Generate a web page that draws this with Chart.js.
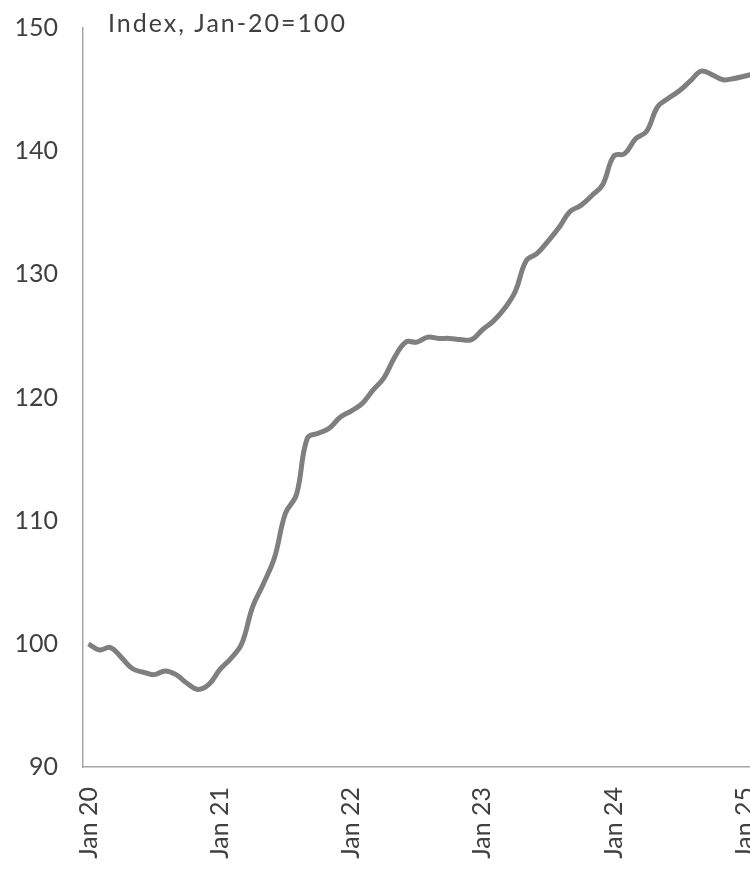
<!DOCTYPE html>
<html>
<head>
<meta charset="utf-8">
<script src="https://cdn.jsdelivr.net/npm/chart.js@4.4.1/dist/chart.umd.min.js"></script>
<style>
  html, body { margin: 0; padding: 0; background: #fff; overflow: hidden; }
  #wrap { width: 750px; height: 870px; overflow: hidden; }
</style>
</head>
<body>
<div id="wrap"><canvas id="chart" width="806" height="870"></canvas></div>
<script>
// Index, Jan-20 = 100 (monthly, Jan 20 .. Feb 25)
const years = ['20', '21', '22', '23', '24', '25'];
const monthNames = ['Jan', 'Feb', 'Mar', 'Apr', 'May', 'Jun', 'Jul', 'Aug', 'Sep', 'Oct', 'Nov', 'Dec'];

const indexValues = [
    100.0, 99.5, 99.7, 98.9, 98.0, 97.7, 97.5, 97.8, 97.5, 96.8, 96.3, 96.7,
    97.9, 98.8, 100.0, 103.0, 104.9, 107.0, 110.6, 112.1, 116.7, 117.1, 117.5, 118.4,
    118.9, 119.5, 120.6, 121.6, 123.3, 124.5, 124.5, 124.9, 124.8, 124.8, 124.7, 124.7,
    125.5, 126.2, 127.2, 128.6, 131.1, 131.7, 132.7, 133.8, 135.1, 135.6, 136.4, 137.3,
    139.6, 139.8, 141.0, 141.6, 143.6, 144.3, 144.9, 145.7, 146.5, 146.2, 145.8, 145.9,
    146.1, 146.3
];

const yTicks = [90, 100, 110, 120, 130, 140, 150];
const titleText = 'Index, Jan-20=100';

// month labels "Jan 20", "Feb 20", ...
const labels = indexValues.map((v, i) => monthNames[i % 12] + ' ' + years[Math.floor(i / 12)]);

const textColor = '#404040';
const fontFamily = 'Lato, "Noto Sans", sans-serif';

// Titre dessiné dans la zone du graphique
const titlePlugin = {
    id: 'insideTitle',
    afterDraw(chart) {
        const ctx = chart.ctx;
        ctx.save();
        ctx.font = '25px ' + fontFamily;
        ctx.letterSpacing = '2px';
        ctx.fillStyle = textColor;
        ctx.textAlign = 'left';
        ctx.textBaseline = 'alphabetic';
        ctx.fillText(titleText, chart.chartArea.left + 25, 32);
        ctx.restore();
    }
};

new Chart(document.getElementById('chart'), {
    type: 'line',
    data: {
        labels: labels,
        datasets: [{
            data: indexValues,
            borderColor: '#7f7f7f',
            borderWidth: 5,
            pointRadius: 0,
            tension: 0.4,
            fill: false,
        }],
    },
    options: {
        responsive: false,
        animation: false,
        layout: { padding: { top: 28, right: 0, left: 0, bottom: 0 } },
        plugins: {
            legend: { display: false },
            tooltip: { enabled: false },
        },
        scales: {
            x: {
                type: 'category',
                offset: true,
                grid: { display: false, drawTicks: false },
                border: { display: true, color: '#a6a6a6', width: 1.5 },
                ticks: {
                    autoSkip: false,
                    minRotation: 90,
                    maxRotation: 90,
                    padding: 20,
                    color: textColor,
                    font: { family: fontFamily, size: 25 },
                    callback: function (value, index) {
                        return index % 12 === 0 ? labels[index] : '';
                    },
                },
                afterFit: (scale) => { scale.height = 103; },
            },
            y: {
                min: 90,
                max: 150,
                afterBuildTicks: (scale) => { scale.ticks = yTicks.map(v => ({ value: v })); },
                grid: { display: false, drawTicks: false },
                border: { display: true, color: '#a6a6a6', width: 1.5 },
                ticks: {
                    padding: 25,
                    color: textColor,
                    font: { family: fontFamily, size: 25 },
                },
                afterFit: (scale) => {
                    scale.width = 83;
                    scale.paddingTop = 0;
                    scale.paddingBottom = 0;
                },
            },
        },
    },
    plugins: [titlePlugin],
});
</script>
</body>
</html>
